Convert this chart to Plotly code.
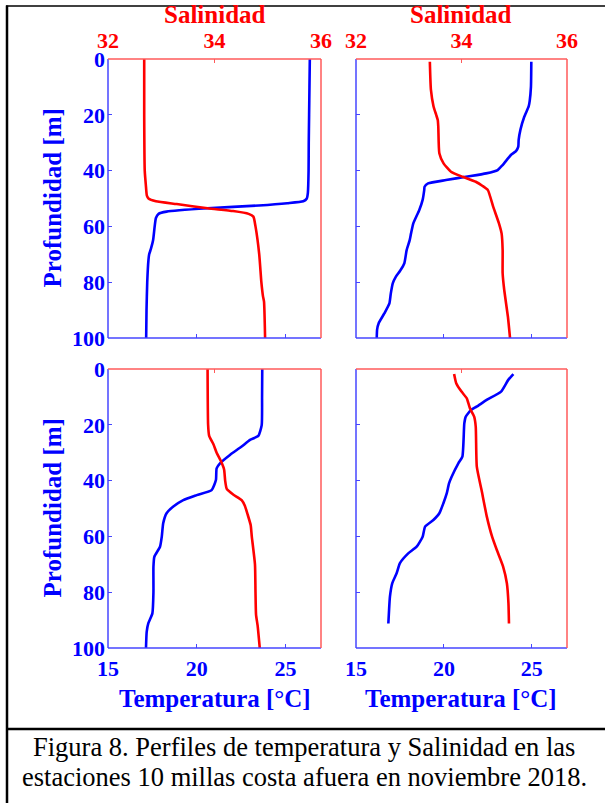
import plotly.graph_objects as go

W, H = 605, 803

# ---------------- data ----------------
# Panel A (top-left)
depth_a_T = [0, 10, 20, 30, 40, 48, 50, 51, 51.7, 52.5, 53.5, 54.7, 55.5, 57, 60, 65, 68, 70, 72, 80, 90, 100]
temp_a = [26.37, 26.35, 26.33, 26.31, 26.3, 26.26, 26.2, 26.0, 25.1, 23.5, 20.6, 18.3, 17.85, 17.7, 17.63, 17.54, 17.42, 17.32, 17.28, 17.21, 17.17, 17.15]
depth_a_S = [0, 20, 40, 45, 49, 50, 51, 52, 53.5, 54.5, 55.5, 56.5, 60, 70, 80, 85, 87, 100]
sal_a = [32.68, 32.68, 32.69, 32.71, 32.73, 32.76, 32.9, 33.29, 33.87, 34.35, 34.64, 34.73, 34.77, 34.84, 34.88, 34.91, 34.93, 34.95]

# Panel B (top-right)
depth_b_T = [1, 10, 15, 17, 20.7, 25.4, 29, 31.4, 33, 34.4, 38, 39.8, 41, 42.2, 43.4, 44.6, 45.8, 47, 50.5, 54.1, 58.9, 62.5, 65, 68.5, 73.2, 76, 78, 80.4, 84, 87.6, 91.2, 94.7, 97, 100]
temp_b = [24.97, 24.95, 24.88, 24.82, 24.57, 24.35, 24.25, 24.23, 24.1, 23.81, 23.34, 23.06, 22.4, 21.26, 20.12, 19.1, 18.9, 18.88, 18.79, 18.6, 18.26, 18.13, 18.05, 17.88, 17.75, 17.5, 17.27, 17.09, 16.98, 16.9, 16.61, 16.29, 16.2, 16.18]
depth_b_S = [1, 11, 17, 20, 21.9, 24.3, 33.8, 37.4, 40.4, 42.2, 44, 45.5, 47, 52.9, 58.9, 62.5, 68.5, 76.8, 82.8, 92.4, 100]
sal_b = [33.4, 33.42, 33.47, 33.52, 33.55, 33.56, 33.58, 33.66, 33.8, 34.02, 34.27, 34.4, 34.5, 34.6, 34.71, 34.76, 34.78, 34.78, 34.81, 34.88, 34.92]

# Panel C (bottom-left)
depth_c_T = [0, 10, 20.1, 24, 25.4, 27.8, 30.8, 33.8, 35.6, 39.8, 43.4, 45.2, 47, 49.3, 51.7, 55.3, 60.1, 63.7, 67.3, 70.9, 80, 87.6, 91.2, 94.2, 100]
temp_c = [23.69, 23.68, 23.66, 23.47, 23.0, 22.53, 21.87, 21.31, 21.12, 21.08, 20.84, 20.0, 19.24, 18.68, 18.3, 18.11, 18.03, 17.93, 17.61, 17.56, 17.56, 17.5, 17.27, 17.18, 17.14]
depth_c_S = [0, 20, 24, 27, 30, 33, 36, 40, 43, 45, 47, 49, 52, 56, 60, 70, 80, 88, 92, 100]
sal_c = [33.87, 33.88, 33.9, 33.98, 34.04, 34.12, 34.18, 34.2, 34.23, 34.35, 34.51, 34.57, 34.62, 34.68, 34.7, 34.76, 34.77, 34.78, 34.81, 34.85]

# Panel D (bottom-right)
depth_d_T = [1.8, 3.9, 8.1, 11.1, 13.5, 14.7, 17.1, 19.5, 31.4, 33.8, 38.6, 41, 44.6, 48.1, 51.7, 54.1, 56.5, 60.1, 63.7, 66.1, 69.6, 73.2, 76.8, 81.6, 86.4, 91.2]
temp_d = [23.95, 23.66, 23.25, 22.43, 21.86, 21.54, 21.24, 21.16, 21.05, 20.82, 20.44, 20.29, 20.16, 19.97, 19.74, 19.4, 18.93, 18.79, 18.45, 17.97, 17.5, 17.31, 17.06, 16.93, 16.88, 16.84]
depth_d_S = [1.8, 5.1, 8.1, 10.5, 14.1, 17.1, 20.7, 35, 43.4, 52.9, 60.1, 64.9, 70.9, 76.8, 84, 91.2]
sal_d = [33.86, 33.9, 34.0, 34.1, 34.16, 34.24, 34.27, 34.29, 34.38, 34.48, 34.58, 34.67, 34.79, 34.86, 34.89, 34.9]

temp_ticks = [15, 20, 25]
sal_ticks = [32, 34, 36]
depth_ticks = [0, 20, 40, 60, 80, 100]

caption_1 = "Figura 8. Perfiles de temperatura y Salinidad en las"
caption_2 = "estaciones 10 millas costa afuera en noviembre 2018."

# ---------------- styling ----------------
BLUE = "#0000ff"
RED = "#ff0000"
AX_BLUE = "rgb(70,70,255)"
AX_RED = "rgb(255,90,90)"
SERIF = "Liberation Serif, Times New Roman, Times, serif"

panels = [
    dict(T=(depth_a_T, temp_a), S=(depth_a_S, sal_a), px=(108, 321), py=(59, 338), left=True, top=True),
    dict(T=(depth_b_T, temp_b), S=(depth_b_S, sal_b), px=(356, 567), py=(59, 338), left=False, top=True),
    dict(T=(depth_c_T, temp_c), S=(depth_c_S, sal_c), px=(108, 321), py=(369, 648), left=True, top=False),
    dict(T=(depth_d_T, temp_d), S=(depth_d_S, sal_d), px=(356, 567), py=(369, 648), left=False, top=False),
]

fig = go.Figure()
layout = {}
shapes = []


def fx(p):
    return p / W


def fy(p):
    return 1 - p / H


tick_font_b = dict(family=SERIF, size=22, color=BLUE, weight="bold")
tick_font_r = dict(family=SERIF, size=22, color=RED, weight="bold")

for i, p in enumerate(panels):
    a = 2 * i + 1
    b = 2 * i + 2
    xd = [fx(p["px"][0]), fx(p["px"][1])]
    yd = [fy(p["py"][1]), fy(p["py"][0])]
    ka, kb = ("" if a == 1 else str(a)), str(b)

    fig.add_trace(go.Scatter(x=p["T"][1], y=p["T"][0], xaxis="x" + ka, yaxis="y" + ka,
                             mode="lines", line=dict(color=BLUE, width=2.6, shape="spline", smoothing=0.5),
                             showlegend=False, hoverinfo="skip"))
    fig.add_trace(go.Scatter(x=p["S"][1], y=p["S"][0], xaxis="x" + kb, yaxis="y" + ka,
                             mode="lines", line=dict(color=RED, width=2.6, shape="spline", smoothing=0.5),
                             showlegend=False, hoverinfo="skip"))

    layout["xaxis" + ka] = dict(domain=xd, anchor="y" + ka, side="bottom", range=[15, 27],
                                tickvals=temp_ticks, ticks="inside", ticklen=4, tickcolor=AX_BLUE, tickwidth=1,
                                showline=False, showgrid=False, zeroline=False, automargin=False,
                                showticklabels=not p["top"], ticklabelstandoff=5,
                                tickfont=tick_font_b, fixedrange=True)
    layout["xaxis" + kb] = dict(overlaying="x" + ka, anchor="y" + ka, side="top", range=[32, 36],
                                tickvals=sal_ticks, ticks="inside", ticklen=4, tickcolor=AX_RED, tickwidth=1,
                                showline=False, showgrid=False, zeroline=False, automargin=False,
                                showticklabels=p["top"], ticklabelstandoff=6,
                                tickfont=tick_font_r, fixedrange=True)
    layout["yaxis" + ka] = dict(domain=yd, anchor="x" + ka, side="left", range=[100, 0],
                                tickvals=depth_ticks, ticks="inside", ticklen=4, tickcolor=AX_BLUE, tickwidth=1,
                                showline=False, showgrid=False, zeroline=False, automargin=False,
                                showticklabels=p["left"], ticklabelstandoff=2,
                                tickfont=tick_font_b, fixedrange=True)
    layout["yaxis" + kb] = dict(overlaying="y" + ka, anchor="x" + ka, side="right", range=[100, 0],
                                tickvals=depth_ticks, ticks="inside", ticklen=4, tickcolor=AX_RED, tickwidth=1,
                                showline=False, showgrid=False, zeroline=False, showticklabels=False,
                                automargin=False, fixedrange=True)

    # panel frame: blue bottom/left, red top/right
    xr = "x" + ka + " domain"
    yr = "y" + ka + " domain"
    shapes += [
        dict(type="line", xref=xr, yref=yr, x0=0, x1=1, y0=0, y1=0, line=dict(color=AX_BLUE, width=1.5)),
        dict(type="line", xref=xr, yref=yr, x0=0, x1=0, y0=0, y1=1, line=dict(color=AX_BLUE, width=1.5)),
        dict(type="line", xref=xr, yref=yr, x0=0, x1=1, y0=1, y1=1, line=dict(color=AX_RED, width=1.5)),
        dict(type="line", xref=xr, yref=yr, x0=1, x1=1, y0=0, y1=1, line=dict(color=AX_RED, width=1.5)),
    ]

annotations = []
title_font_r = dict(family=SERIF, size=25, color=RED, weight="bold")
title_font_b = dict(family=SERIF, size=25, color=BLUE, weight="bold")
for p in panels:
    cx = fx((p["px"][0] + p["px"][1]) / 2)
    cy = fy((p["py"][0] + p["py"][1]) / 2)
    if p["top"]:
        annotations.append(dict(text="Salinidad", x=cx, y=fy(15), xref="paper", yref="paper",
                                showarrow=False, font=title_font_r, xanchor="center", yanchor="middle",
                                borderpad=0))
    else:
        annotations.append(dict(text="Temperatura [°C]", x=cx, y=fy(698), xref="paper", yref="paper",
                                showarrow=False, font=title_font_b, xanchor="center", yanchor="middle",
                                borderpad=0))
    if p["left"]:
        annotations.append(dict(text="Profundidad [m]", x=fx(52), y=cy, xref="paper", yref="paper",
                                showarrow=False, font=title_font_b, textangle=-90,
                                xanchor="center", yanchor="middle", borderpad=0))

cap_font = dict(family=SERIF, size=26.5, color="black")
annotations.append(dict(text=caption_1, x=fx(304), y=fy(747), xref="paper", yref="paper",
                        showarrow=False, font=cap_font, xanchor="center", yanchor="middle", borderpad=0))
annotations.append(dict(text=caption_2, x=fx(304), y=fy(777), xref="paper", yref="paper",
                        showarrow=False, font=cap_font, xanchor="center", yanchor="middle", borderpad=0))

shapes += [
    dict(type="line", xref="paper", yref="paper", x0=fx(6), x1=1.0, y0=fy(6), y1=fy(6),
         line=dict(color="black", width=1.5)),
    dict(type="line", xref="paper", yref="paper", x0=fx(7), x1=fx(7), y0=fy(5.5), y1=0,
         line=dict(color="black", width=2.5)),
    dict(type="line", xref="paper", yref="paper", x0=fx(6), x1=1.0, y0=fy(729), y1=fy(729),
         line=dict(color="black", width=2.5)),
]

fig.update_layout(width=W, height=H,
                  margin=dict(l=0, r=0, t=0, b=0, pad=0, autoexpand=False),
                  paper_bgcolor="white", plot_bgcolor="white",
                  annotations=annotations, shapes=shapes, **layout)

fig.write_html("out.html", config={"displayModeBar": False},
               post_script="document.body.style.margin='0';document.body.style.overflow='hidden';")
